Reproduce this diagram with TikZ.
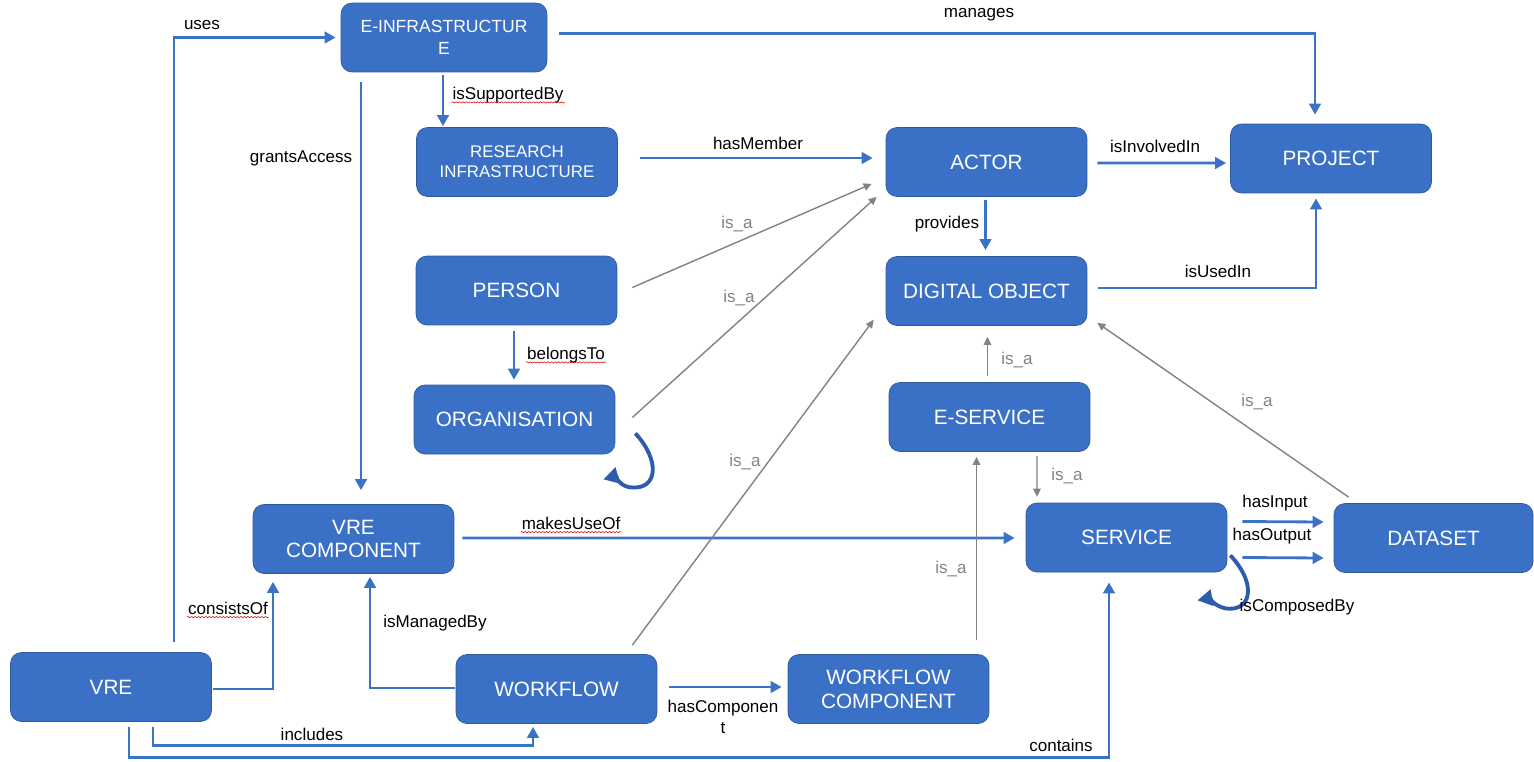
\documentclass[tikz,border=0pt]{standalone}
\usepackage{fontspec}
\setmainfont{Liberation Sans}
\usepackage{tikz}
\usetikzlibrary{calc}
\usetikzlibrary{arrows.meta}
\usetikzlibrary{decorations.pathmorphing}
\definecolor{boxblue}{RGB}{58,113,198}
\definecolor{boxline}{RGB}{47,88,158}
\definecolor{relblue}{RGB}{60,114,198}
\definecolor{loopblue}{RGB}{44,92,170}
\definecolor{isagray}{RGB}{130,130,130}
\tikzset{>={Triangle[width=2.3mm,length=2.2mm]}}

\begin{document}
\begin{tikzpicture}[x=0.02cm, y=-0.02cm]
  \tikzstyle{cbox} = [draw=boxline, fill=boxblue, rounded corners=0.22cm, minimum width=4.02cm, minimum height=1.38cm, inner sep=2pt, align=center, text=white, font=\fontsize{11.8}{13.6}\selectfont]
  \tikzstyle{rel} = [relblue, line width=1.6pt, ->]
  \tikzstyle{selfrel} = [loopblue, line width=2.2pt, -{Triangle[width=3.2mm,length=3mm]}]
  \tikzstyle{isa} = [isagray, line width=0.8pt, -{Triangle[width=1.5mm,length=1.6mm]}]
  \tikzstyle{elab} = [inner sep=1pt, align=center, font=\fontsize{9.7}{11.6}\selectfont]
  \tikzstyle{ilab} = [elab, text=isagray]
  \tikzstyle{squig} = [red!80!black, line width=0.3pt, decorate, decoration={snake, amplitude=0.35pt, segment length=2pt}]

  \useasboundingbox (0,0) rectangle (1534,761);

  \node[cbox, minimum width=4.12cm, font=\fontsize{10}{12.3}\selectfont] (einf) at (444,37.5) {E-INFRASTRUCTUR\\E};
  \node[cbox, font=\fontsize{9.6}{11.4}\selectfont] (resi) at (517,162) {RESEARCH\\INFRASTRUCTURE};
  \node[cbox] (actr) at (986.5,162) {ACTOR};
  \node[cbox] (proj) at (1331,158.5) {PROJECT};
  \node[cbox] (pers) at (516.5,290.5) {PERSON};
  \node[cbox] (digo) at (986.5,291) {DIGITAL OBJECT};
  \node[cbox] (orgn) at (514.5,419.5) {ORGANISATION};
  \node[cbox] (eser) at (989.5,417) {E-SERVICE};
  \node[cbox] (vrec) at (353.5,539) {VRE\\COMPONENT};
  \node[cbox] (serv) at (1126.5,537.5) {SERVICE};
  \node[cbox, minimum width=3.98cm] (dset) at (1433.5,538) {DATASET};
  \node[cbox] (vre) at (111,687) {VRE};
  \node[cbox] (wflw) at (556.5,689) {WORKFLOW};
  \node[cbox] (wfcp) at (888.5,689) {WORKFLOW\\COMPONENT};

  % blue relations
  \draw[rel] ($(vre.north)+(63,-10)$) |- ($(einf.west)+(-5,0)$);
  \draw[rel] ($(einf.east)+(12,-4)$) -| ($(proj.north)+(-16,-9)$);
  \draw[rel] ($(einf.south)+(-83,10)$) -- ($(einf.south |- vrec.north)+(-83,-14)$);
  \draw[rel] ($(einf.south)+(-1,3)$) -- ($(resi.north)+(-74,-1)$);
  \draw[rel] ($(resi.east)+(22,-4)$) -- ($(actr.west)+(-13,-4)$);
  \draw[rel] ($(actr.east)+(10,1)$) -- ($(proj.west)+(-4,4.5)$);
  \draw[rel] ($(actr.south)+(-1,3)$) -- ($(digo.north)+(-1,-6)$);
  \draw[rel] ($(digo.east)+(11,-3)$) -| ($(proj.south)+(-15,5)$);
  \draw[rel] ($(pers.south)+(-2.5,6)$) -- ($(orgn.north)+(-0.5,-5)$);
  \draw[rel] ($(vrec.east)+(8,-1)$) -- ($(serv.west)+(-11,0.5)$);
  \draw[rel] ($(serv.east)+(15,-16)$) -- ($(dset.west)+(-10,-16)$);
  \draw[rel] ($(serv.east)+(15,20)$) -- ($(dset.west)+(-10,20)$);
  \draw[rel] ($(vre.east)+(1,2)$) -| ($(vrec.south)+(-80.5,8)$);
  \draw[rel] ($(wflw.west)+(-1,-1)$) -| ($(vrec.south)+(16.5,3)$);
  \draw[rel] ($(vre.south)+(42,5)$) -- ++(0,19) -| ($(wflw.south)+(-23.5,3)$);
  \draw[rel] ($(vre.south)+(18,5)$) -- ++(0,31) -| ($(serv.south)+(-17.5,10)$);
  \draw[rel] ($(wflw.east)+(12,-2)$) -- ($(wfcp.west)+(-6,-2)$);
  % self relations
  \draw[selfrel] ($(orgn.south east)+(20,-21)$) .. controls ($(orgn.south east)+(45,6)$) and ($(orgn.south east)+(43,36)$) .. ($(orgn.south east)+(15,33)$) .. controls ($(orgn.south east)+(5,32)$) and ($(orgn.south east)+(-1,22)$) .. ($(orgn.south east)+(-12,25)$);
  \draw[selfrel] ($(serv.south east)+(3,-17)$) .. controls ($(serv.south east)+(31,13)$) and ($(serv.south east)+(23,40)$) .. ($(serv.south east)+(-2,36)$) .. controls ($(serv.south east)+(-12,34)$) and ($(serv.south east)+(-19,26)$) .. ($(serv.south east)+(-30,28)$);

  % is_a links
  \draw[isa] ($(pers.east)+(15,-3)$) -- ($(actr.south west)+(-14,-13)$);
  \draw[isa] ($(orgn.east)+(17,-2)$) -- ($(actr.south west)+(-9,0)$);
  \draw[isa] ($(wflw.north east)+(-25,-9)$) -- ($(digo.south west)+(-12,-6)$);
  \draw[isa] ($(eser.north)+(-2,-6)$) -- ($(digo.south)+(1,11)$);
  \draw[isa] ($(eser.south)+(47.5,4)$) -- ($(serv.north)+(-89.5,-6)$);
  \draw[isa] ($(wfcp.north)+(88,-14)$) -- ($(eser.south)+(-13,5)$);
  \draw[isa] ($(dset.north west)+(15,-6)$) -- ($(digo.south east)+(10,-3)$);

  % labels
  \node[elab] (luses) at (202,25) {uses};
  \node[elab] (lmang) at (979,15) {manages};
  \node[elab] (lgrnt) at (301,158) {grantsAccess};
  \node[elab] (lsupp) at (508,95) {isSupportedBy};
  \node[elab] (lmemb) at (758,143) {hasMember};
  \node[elab] (linvl) at (1155,146) {isInvolvedIn};
  \node[elab] (lprov) at (947,224) {provides};
  \node[elab] (lused) at (1218,271) {isUsedIn};
  \node[elab] (lbelg) at (566,355) {belongsTo};
  \node[elab] (lmake) at (571,523) {makesUseOf};
  \node[elab] (linpt) at (1275,503) {hasInput};
  \node[elab] (loutp) at (1272,536) {hasOutput};
  \node[elab] (lcomp) at (1297,607) {isComposedBy};
  \node[elab] (lcons) at (228,608) {consistsOf};
  \node[elab] (lmngd) at (435,623) {isManagedBy};
  \node[elab] (lincl) at (312,734) {includes};
  \node[elab] (lcont) at (1061,745) {contains};
  \node[elab] (lhcmp) at (723,717) {hasComponen\\t};
  \node[ilab] (lisa1) at (737,224) {is\_a};
  \node[ilab] (lisa2) at (739,298) {is\_a};
  \node[ilab] (lisa3) at (745,462) {is\_a};
  \node[ilab] (lisa4) at (1017,360) {is\_a};
  \node[ilab] (lisa5) at (1067,476) {is\_a};
  \node[ilab] (lisa6) at (951,569) {is\_a};
  \node[ilab] (lisa7) at (1257,402) {is\_a};

  \draw[squig] ($(lsupp.base west)+(1,3)$) -- ($(lsupp.base east)+(-1,3)$);
  \draw[squig] ($(lbelg.base west)+(1,3)$) -- ($(lbelg.base east)+(-1,3)$);
  \draw[squig] ($(lmake.base west)+(1,3)$) -- ($(lmake.base east)+(-1,3)$);
  \draw[squig] ($(lcons.base west)+(1,3)$) -- ($(lcons.base east)+(-1,3)$);
\end{tikzpicture}
\end{document}
